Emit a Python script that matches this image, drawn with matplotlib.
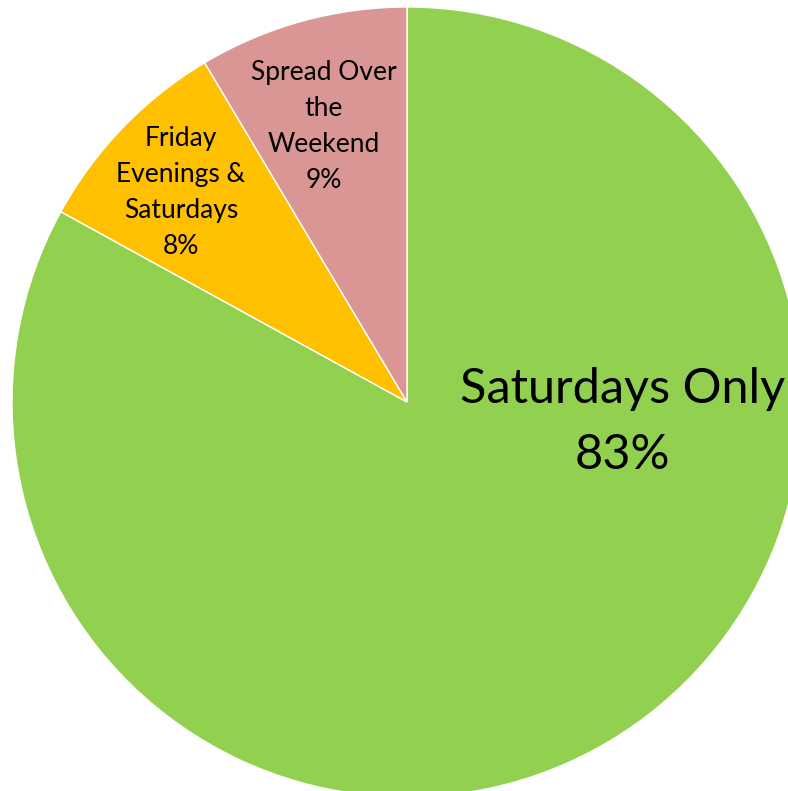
import matplotlib
matplotlib.use("Agg")
import matplotlib.pyplot as plt

# ── Datos ─────────────────────────────────────────────────────────────────────
labels = ["Saturdays Only", "Friday\nEvenings &\nSaturdays", "Spread Over\nthe\nWeekend"]
values = [83.0, 8.44, 8.56]
colors = ["#92D050", "#FFC000", "#D99694"]

# posición de cada etiqueta (x, y en unidades del radio) y tamaño de letra
label_pos = [(0.545, -0.05), (-0.572, 0.530), (-0.21, 0.697)]
label_size = [35, 19, 19]
label_spacing = [1.6, 1.55, 1.55]

plt.rcParams["font.family"] = ["Lato", "DejaVu Sans"]

fig = plt.figure(figsize=(7.88, 7.91), dpi=100)
ax = fig.add_axes([0, 0, 1, 1])

wedges, _ = ax.pie(
    values, colors=colors, startangle=90, counterclock=False,
    radius=1.0, wedgeprops=dict(edgecolor="white", linewidth=1.0),
)

for lab, val, (x, y), fs, ls in zip(labels, values, label_pos, label_size, label_spacing):
    ax.text(x, y, f"{lab}\n{val:.0f}%", ha="center", va="center",
            fontsize=fs, linespacing=ls, color="black")

ax.set_xlim(-1.0304, 0.9646)
ax.set_ylim(-0.9848, 1.0177)
ax.set_aspect("auto")
ax.axis("off")

fig.savefig("out.png", dpi=100)
